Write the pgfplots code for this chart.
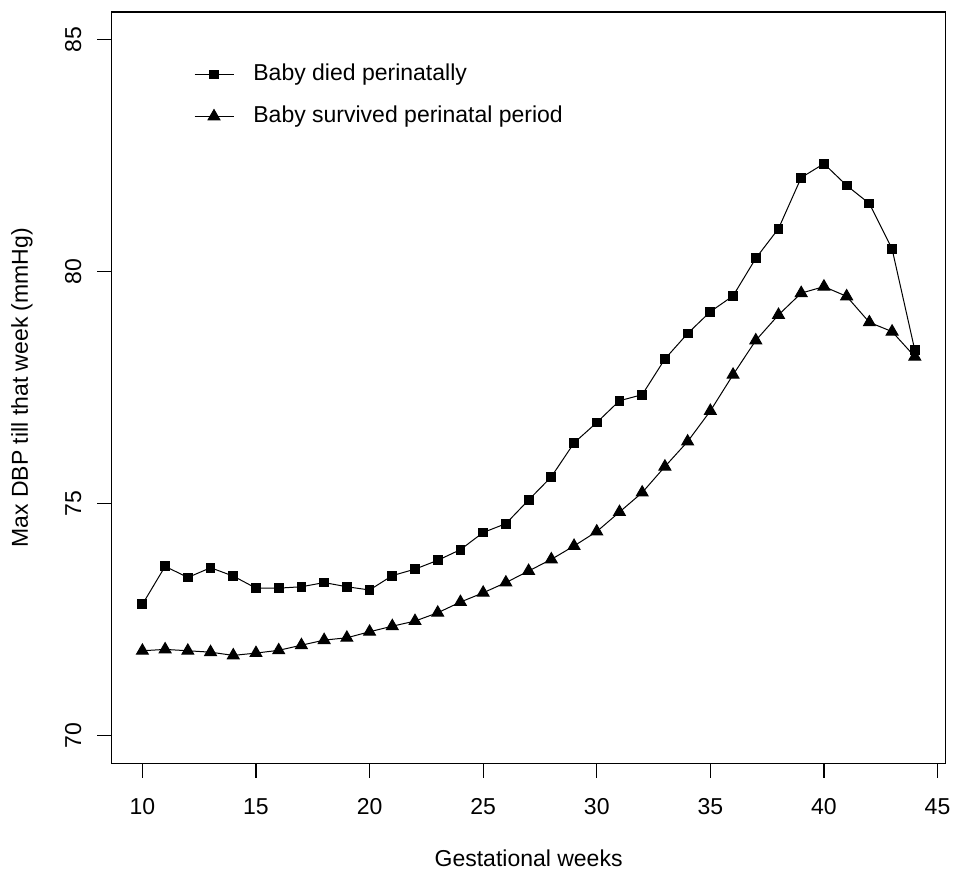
\documentclass[border=0pt]{standalone}
\usepackage{pgfplots}
\usepackage{pgfplotstable}
\pgfplotsset{compat=1.18}
\usepackage{fontspec}
\setmainfont{Liberation Sans}

\pgfplotstableread{
week died survived
10 72.83 71.83
11 73.65 71.86
12 73.41 71.83
13 73.62 71.80
14 73.44 71.73
15 73.18 71.78
16 73.18 71.84
17 73.21 71.95
18 73.30 72.06
19 73.21 72.11
20 73.14 72.24
21 73.45 72.36
22 73.59 72.47
23 73.78 72.65
24 74.01 72.88
25 74.38 73.08
26 74.57 73.30
27 75.08 73.55
28 75.58 73.80
29 76.31 74.09
30 76.75 74.40
31 77.22 74.82
32 77.35 75.24
33 78.12 75.80
34 78.67 76.34
35 79.14 77.00
36 79.48 77.78
37 80.29 78.52
38 80.93 79.07
39 82.03 79.54
40 82.33 79.68
41 81.86 79.47
42 81.47 78.91
43 80.49 78.71
44 78.31 78.17
}\datatable

\begin{document}
\begin{tikzpicture}[font=\fontsize{11.5}{13.8}\selectfont]
\path[use as bounding box] (-55.75pt,-57.25pt) rectangle (423.75pt,381.75pt);
\begin{axis}[
  scale only axis,
  width=417.1pt, height=375.75pt,
  xmin=8.64, xmax=45.36, ymin=69.4, ymax=85.6,
  axis line style={line width=0.6pt},
  xtick={10,15,...,45}, ytick={70,75,80,85},
  tick align=outside, xtick pos=left, ytick pos=left,
  major tick length=7pt,
  tick style={black, line width=0.6pt},
  /pgf/number format/assume math mode=true,
  xticklabel style={anchor=center, yshift=-14.75pt},
  yticklabel style={xshift=-12.1pt, rotate=90, anchor=center},
  xlabel={Gestational weeks},
  ylabel={Max DBP till that week (mmHg)},
  xlabel style={at={([yshift=-47.25pt]axis description cs:0.5,0)}, anchor=center},
  ylabel style={at={([xshift=-44.75pt]axis description cs:0,0.5)}, anchor=center},
  legend cell align=left,
  legend style={draw=none, fill=none, at={(0.0989,0.889)}, anchor=west,
    inner sep=0pt, outer sep=0pt, row sep=10.5pt, column sep=9.7pt,
    nodes={inner sep=0pt, text height=8.2pt, text depth=2.3pt}},
  legend image code/.code={\draw[mark repeat=2,mark phase=2,#1] plot coordinates {(0pt,0pt) (9.75pt,0pt) (19.5pt,0pt)};},
]
\addplot[black, line width=0.5pt, mark=square*, mark size=2.2pt, mark options={solid, fill=black}] table[x=week, y=died] {\datatable};
\addlegendentry{Baby died perinatally}
\addplot[black, line width=0.5pt, mark=triangle*, mark size=3.4pt, mark options={solid, fill=black}] table[x=week, y=survived] {\datatable};
\addlegendentry{Baby survived perinatal period}
\end{axis}
\end{tikzpicture}
\end{document}
